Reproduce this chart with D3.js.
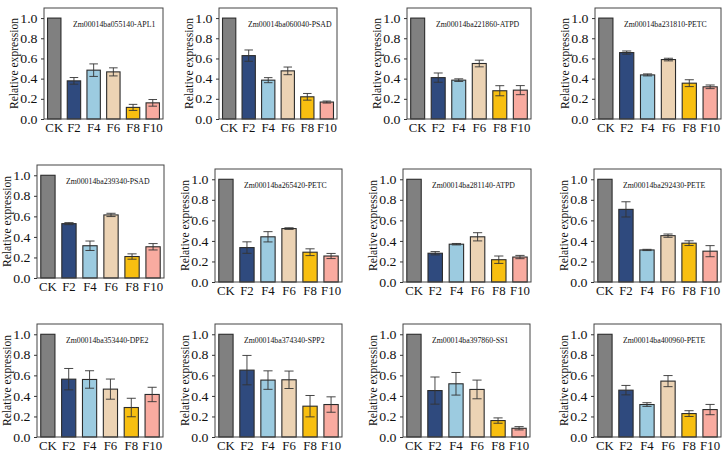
<!DOCTYPE html>
<html>
<head>
<meta charset="utf-8">
<script src="https://cdn.jsdelivr.net/npm/d3@7"></script>
<style>
  body { margin: 0; background: #fff; }
  svg text { font-family: "Liberation Serif", "Times New Roman", serif; fill: #111; }
</style>
</head>
<body>
<script>
// data
var genes = ["Zm00014ba055140-APL1", "Zm00014ba060040-PSAD", "Zm00014ba221860-ATPD", "Zm00014ba231810-PETC",
             "Zm00014ba239340-PSAD", "Zm00014ba265420-PETC", "Zm00014ba281140-ATPD", "Zm00014ba292430-PETE",
             "Zm00014ba353440-DPE2", "Zm00014ba374340-SPP2", "Zm00014ba397860-SS1", "Zm00014ba400960-PETE"];
var groups = ["CK", "F2", "F4", "F6", "F8", "F10"];
var means = [
  [1, 0.378, 0.484, 0.467, 0.115, 0.160],
  [1, 0.628, 0.385, 0.477, 0.220, 0.168],
  [1, 0.410, 0.385, 0.550, 0.280, 0.286],
  [1, 0.658, 0.437, 0.589, 0.355, 0.319],
  [1, 0.529, 0.314, 0.614, 0.209, 0.304],
  [1, 0.335, 0.440, 0.520, 0.290, 0.253],
  [1, 0.280, 0.368, 0.440, 0.217, 0.243],
  [1, 0.707, 0.312, 0.451, 0.378, 0.300],
  [1, 0.563, 0.560, 0.466, 0.287, 0.414],
  [1, 0.651, 0.554, 0.557, 0.300, 0.316],
  [1, 0.452, 0.518, 0.463, 0.160, 0.085],
  [1, 0.456, 0.316, 0.544, 0.228, 0.267]
];
var errs = [
  [0, 0.033, 0.062, 0.040, 0.030, 0.033],
  [0, 0.056, 0.025, 0.038, 0.033, 0.010],
  [0, 0.046, 0.013, 0.033, 0.050, 0.045],
  [0, 0.016, 0.010, 0.013, 0.034, 0.018],
  [0, 0.010, 0.046, 0.016, 0.026, 0.031],
  [0, 0.056, 0.050, 0.008, 0.033, 0.025],
  [0, 0.016, 0.007, 0.040, 0.036, 0.016],
  [0, 0.074, 0.006, 0.016, 0.023, 0.054],
  [0, 0.104, 0.085, 0.098, 0.090, 0.070],
  [0, 0.143, 0.090, 0.085, 0.104, 0.075],
  [0, 0.132, 0.110, 0.091, 0.026, 0.016],
  [0, 0.046, 0.018, 0.054, 0.028, 0.050]
];
var yTicks = [0, 0.2, 0.4, 0.6, 0.8, 1.0];
var colors = ["#808080", "#2f4a7e", "#9ccbe0", "#ecd3b4", "#f8bf10", "#f9aba0"];

// panel frames: left, top, right, bottom
var boxes = [
  [44, 8, 163, 119], [219, 8, 337, 119], [407, 8, 531, 119], [595, 8, 721, 119],
  [37, 165, 164, 278], [215, 169, 342, 282], [403, 169, 531, 282], [594, 169, 721, 282],
  [37, 324, 163, 437], [215, 324, 342, 437], [403, 324, 530, 437], [594, 324, 721, 437]
];

var svg = d3.select("body").append("svg")
    .attr("width", 728)
    .attr("height", 457);

genes.forEach(function(name, p) {
  var b = boxes[p];
  var g = svg.append("g");

  var x = d3.scaleBand().domain(groups).range([b[0], b[2]])
      .paddingInner(0.32).paddingOuter(0.18);
  var y = d3.scaleLinear().domain([0, 1.1]).range([b[3], b[1]]);

  var rows = groups.map(function(k, i) { return {k: k, m: means[p][i], e: errs[p][i], c: colors[i]}; });

  g.selectAll("rect.bar").data(rows).enter().append("rect")
    .attr("class", "bar")
    .attr("x", d => x(d.k))
    .attr("y", d => y(d.m))
    .attr("width", x.bandwidth())
    .attr("height", d => y(0) - y(d.m))
    .attr("fill", d => d.c)
    .attr("stroke", "#2b2b2b")
    .attr("stroke-width", 1.1);

  var cap = x.bandwidth() * 0.32;
  var eb = g.selectAll("g.err").data(rows.filter(d => d.e > 0)).enter().append("g")
    .attr("stroke", "#333").attr("stroke-width", 0.9);
  eb.append("line")
    .attr("x1", d => x(d.k) + x.bandwidth() / 2).attr("x2", d => x(d.k) + x.bandwidth() / 2)
    .attr("y1", d => y(d.m - d.e)).attr("y2", d => y(d.m + d.e));
  eb.append("line")
    .attr("x1", d => x(d.k) + x.bandwidth() / 2 - cap).attr("x2", d => x(d.k) + x.bandwidth() / 2 + cap)
    .attr("y1", d => y(d.m + d.e)).attr("y2", d => y(d.m + d.e));
  eb.append("line")
    .attr("x1", d => x(d.k) + x.bandwidth() / 2 - cap).attr("x2", d => x(d.k) + x.bandwidth() / 2 + cap)
    .attr("y1", d => y(d.m - d.e)).attr("y2", d => y(d.m - d.e));

  // frame
  g.append("rect")
    .attr("x", b[0]).attr("y", b[1])
    .attr("width", b[2] - b[0]).attr("height", b[3] - b[1])
    .attr("fill", "none").attr("stroke", "#444").attr("stroke-width", 1);

  var ya = g.append("g")
    .attr("transform", "translate(" + b[0] + ",0)")
    .call(d3.axisLeft(y).tickValues(yTicks).tickFormat(d3.format(".1f")).tickSize(3).tickPadding(3));
  ya.select(".domain").remove();
  ya.selectAll("line").attr("stroke", "#333");
  ya.selectAll("text").style("font-size", "12.8px").attr("font-family", null)
    .attr("transform", "scale(1.08,1)");

  var xa = g.append("g")
    .attr("transform", "translate(0," + b[3] + ")")
    .call(d3.axisBottom(x).tickSize(0).tickPadding(4));
  xa.select(".domain").remove();
  xa.selectAll("text").style("font-size", "12.8px").attr("font-family", null);

  g.append("text")
    .attr("transform", "translate(" + (b[0] - 31) + "," + ((b[1] + b[3]) / 2) + ") rotate(-90) scale(1,1.15)")
    .attr("text-anchor", "middle")
    .attr("dy", "0.35em")
    .style("font-size", "11.6px")
    .text("Relative expression");

  g.append("text")
    .attr("x", b[0] + 29)
    .attr("y", b[1] + 19)
    .style("font-size", "7.8px")
    .text(name);
});
</script>
</body>
</html>
